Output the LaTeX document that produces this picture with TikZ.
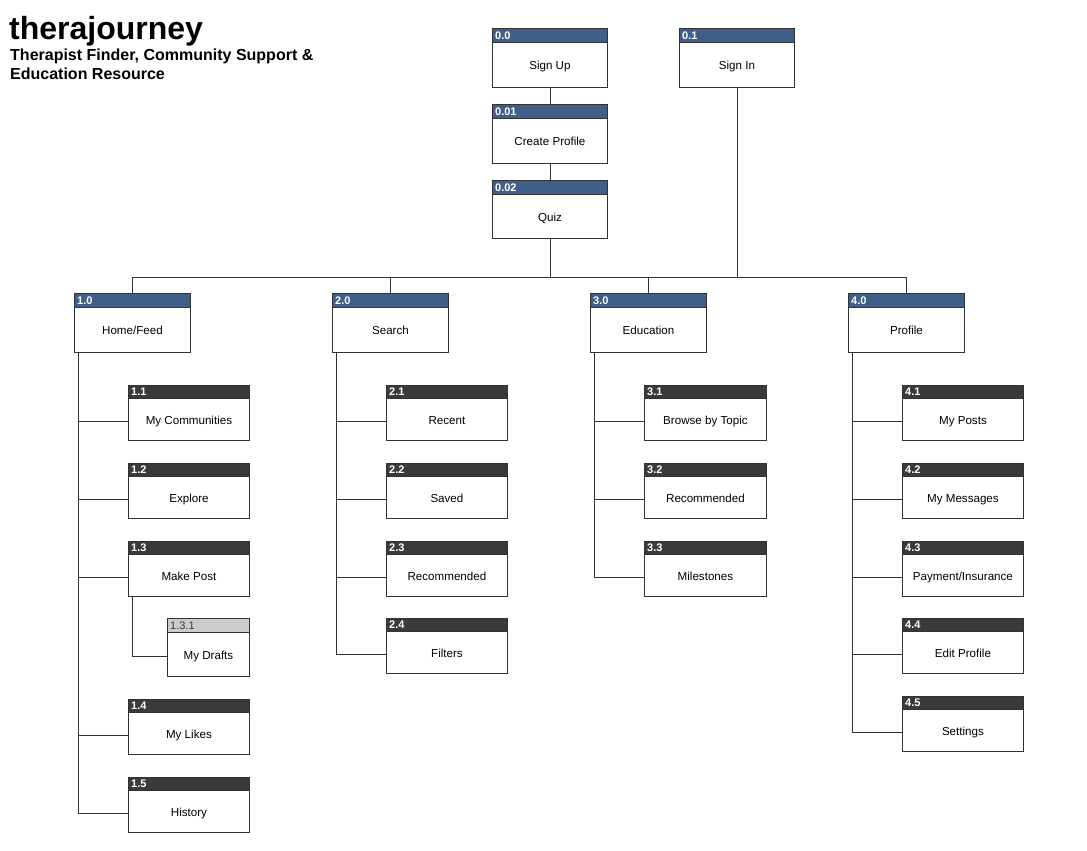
\documentclass[tikz,border=0pt]{standalone}
\usepackage{fontspec}
\setmainfont{Liberation Sans}
\definecolor{hdrblue}{HTML}{3F5F88}
\definecolor{hdrdark}{HTML}{3A3A3A}
\definecolor{hdrlight}{HTML}{CCCCCC}
\definecolor{linecol}{HTML}{333333}
\tikzset{
  boxframe/.style={draw=linecol, line width=0.9pt, fill=white, inner sep=0pt, rectangle},
  hdrblue/.style={fill=hdrblue, draw=linecol, line width=0.9pt, inner sep=0pt, rectangle},
  hdrdark/.style={fill=hdrdark, draw=linecol, line width=0.9pt, inner sep=0pt, rectangle},
  hdrlight/.style={fill=hdrlight, draw=linecol, line width=0.9pt, inner sep=0pt, rectangle},
  idtxt/.style={font=\fontsize{11}{13}\selectfont\bfseries, text=white, inner sep=0pt, anchor=west},
  idtxtdark/.style={font=\fontsize{11}{13}\selectfont, text=hdrdark, inner sep=0pt, anchor=west},
  boxtext/.style={font=\fontsize{11.6}{14}\selectfont, text=black, inner sep=0pt, text height=8.4pt, text depth=2.4pt, yshift=-1.5pt},
  conn/.style={draw=linecol, line width=0.9pt},
}
% #1 name, #2 x, #3 y, #4 w, #5 h, #6 header height, #7 header style, #8 id style, #9 id|text
\newcommand\tbox[9]{%
  \node[boxframe, minimum width=#4pt, minimum height=#5pt, anchor=north west] (#1) at (#2,#3) {};
  \node[#7, minimum width=#4pt, minimum height=#6pt, anchor=north west] (#1h) at (#1.north west) {};
  \node[#8] (#1i) at ([xshift=3pt]#1h.west) {\tboxid#9\relax};
  \path (#1h.south) -- (#1.south) node[midway, boxtext] (#1t) {\tboxlabel#9\relax};
}
\def\tboxid#1|#2\relax{#1}
\def\tboxlabel#1|#2\relax{#2}
\begin{document}
\begin{tikzpicture}[x=1pt,y=-1pt]
\useasboundingbox (0,0) rectangle (1087,851);
\fill[white] (0,0) rectangle (1087,851);

% title
\node[anchor=base west, inner sep=0pt, font=\fontsize{32}{34}\selectfont\bfseries] (title) at (9,40) {therajourney};
\node[anchor=base west, inner sep=0pt, font=\fontsize{16}{19.5}\selectfont\bfseries] (subtitle) at (10,60) {Therapist Finder, Community Support \&};
\node[anchor=base west, inner sep=0pt, font=\fontsize{16}{19.5}\selectfont\bfseries] (subtitle2) at (10,79) {Education Resource};

\coordinate (busy) at (0,277);

% top boxes
\tbox{n00}{492}{28}{115}{59}{14}{hdrblue}{idtxt}{0.0|Sign Up}
\tbox{n01}{679}{28}{115}{59}{14}{hdrblue}{idtxt}{0.1|Sign In}
\tbox{n001}{492}{104}{115}{59}{14}{hdrblue}{idtxt}{0.01|Create Profile}
\tbox{n002}{492}{180}{115}{58}{14}{hdrblue}{idtxt}{0.02|Quiz}

% level 1
\tbox{n10}{74}{293}{116}{59}{14}{hdrblue}{idtxt}{1.0|Home/Feed}
\tbox{n20}{332}{293}{116}{59}{14}{hdrblue}{idtxt}{2.0|Search}
\tbox{n30}{590}{293}{116}{59}{14}{hdrblue}{idtxt}{3.0|Education}
\tbox{n40}{848}{293}{116}{59}{14}{hdrblue}{idtxt}{4.0|Profile}

% column 1
\tbox{n11}{128}{385}{121}{55}{13}{hdrdark}{idtxt}{1.1|My Communities}
\tbox{n12}{128}{463}{121}{55}{13}{hdrdark}{idtxt}{1.2|Explore}
\tbox{n13}{128}{541}{121}{55}{13}{hdrdark}{idtxt}{1.3|Make Post}
\tbox{n131}{167}{618}{82}{58}{14}{hdrlight}{idtxtdark}{1.3.1|My Drafts}
\tbox{n14}{128}{699}{121}{55}{13}{hdrdark}{idtxt}{1.4|My Likes}
\tbox{n15}{128}{777}{121}{55}{13}{hdrdark}{idtxt}{1.5|History}

% column 2
\tbox{n21}{386}{385}{121}{55}{13}{hdrdark}{idtxt}{2.1|Recent}
\tbox{n22}{386}{463}{121}{55}{13}{hdrdark}{idtxt}{2.2|Saved}
\tbox{n23}{386}{541}{121}{55}{13}{hdrdark}{idtxt}{2.3|Recommended}
\tbox{n24}{386}{618}{121}{55}{13}{hdrdark}{idtxt}{2.4|Filters}

% column 3
\tbox{n31}{644}{385}{122}{55}{13}{hdrdark}{idtxt}{3.1|Browse by Topic}
\tbox{n32}{644}{463}{122}{55}{13}{hdrdark}{idtxt}{3.2|Recommended}
\tbox{n33}{644}{541}{122}{55}{13}{hdrdark}{idtxt}{3.3|Milestones}

% column 4
\tbox{n41}{902}{385}{121}{55}{13}{hdrdark}{idtxt}{4.1|My Posts}
\tbox{n42}{902}{463}{121}{55}{13}{hdrdark}{idtxt}{4.2|My Messages}
\tbox{n43}{902}{541}{121}{55}{13}{hdrdark}{idtxt}{4.3|Payment/Insurance}
\tbox{n44}{902}{618}{121}{55}{13}{hdrdark}{idtxt}{4.4|Edit Profile}
\tbox{n45}{902}{696}{121}{55}{13}{hdrdark}{idtxt}{4.5|Settings}

% top connectors
\draw[conn] (n00.south) -- (n001h.north);
\draw[conn] (n001.south) -- (n002h.north);
\draw[conn] (n002.south) -- (n002.south |- busy);
\draw[conn] (n01.south) -- (n01.south |- busy);
\draw[conn] (n10h.north) |- (n40h.north |- busy) -- (n40h.north);
\draw[conn] (n20h.north) -- (n20h.north |- busy);
\draw[conn] (n30h.north) -- (n30h.north |- busy);

% spines
\coordinate (s1) at ([xshift=4pt]n10.south west);
\coordinate (s2) at ([xshift=4pt]n20.south west);
\coordinate (s3) at ([xshift=4pt]n30.south west);
\coordinate (s4) at ([xshift=4pt]n40.south west);
\coordinate (s13) at ([xshift=4pt]n13.south west);

\draw[conn] (s1) |- (n15.west |- n15t);
\foreach \c in {n11,n12,n13,n14} \draw[conn] (s1 |- \c t) -- (\c.west |- \c t);
\draw[conn] (s13) |- (n131.west |- n131t);

\draw[conn] (s2) |- (n24.west |- n24t);
\foreach \c in {n21,n22,n23} \draw[conn] (s2 |- \c t) -- (\c.west |- \c t);

\draw[conn] (s3) |- (n33.west |- n33t);
\foreach \c in {n31,n32} \draw[conn] (s3 |- \c t) -- (\c.west |- \c t);

\draw[conn] (s4) |- (n45.west |- n45t);
\foreach \c in {n41,n42,n43,n44} \draw[conn] (s4 |- \c t) -- (\c.west |- \c t);
\end{tikzpicture}
\end{document}
